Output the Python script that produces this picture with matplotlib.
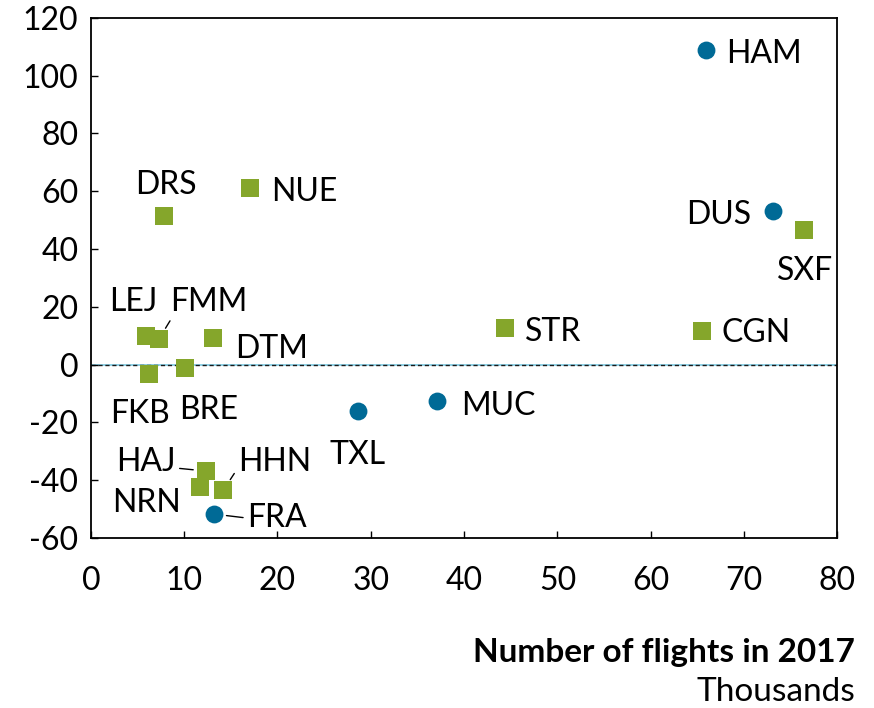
import matplotlib.pyplot as plt

plt.rcParams['font.family'] = ['Lato', 'DejaVu Sans']
plt.rcParams['axes.unicode_minus'] = False

# airports: thousands of flights in 2017 vs change (y)
airports = ['HAM', 'DUS', 'SXF', 'CGN', 'STR', 'MUC', 'TXL', 'NUE', 'DRS',
            'LEJ', 'FMM', 'DTM', 'FKB', 'BRE', 'HAJ', 'HHN', 'NRN', 'FRA']
flights = [65.9, 73.1, 76.4, 65.5, 44.4, 37.1, 28.6, 17.1, 7.8,
           5.9, 7.3, 13.1, 6.2, 10.1, 12.3, 14.2, 11.7, 13.2]
values = [108.9, 53.2, 46.6, 11.7, 12.7, -12.6, -16.0, 61.1, 51.5,
          10.0, 8.9, 9.2, -3.2, -1.1, -36.8, -43.4, -42.3, -51.7]
groups = ['b', 'b', 'g', 'g', 'g', 'b', 'b', 'g', 'g',
          'g', 'g', 'g', 'g', 'g', 'g', 'g', 'g', 'b']

blue = '#006A96'
green = '#85A62B'

# label offsets in pixels (dx, dy) and leader line anchor
offsets = {
    'HAM': (58, -4), 'DUS': (-54, -4), 'SXF': (1, -41), 'CGN': (54, -2),
    'STR': (48, -4), 'MUC': (61, -5), 'TXL': (0, -44), 'NUE': (54, -4),
    'DRS': (2, 31), 'LEJ': (-13, 34), 'FMM': (50, 37), 'DTM': (58, -11),
    'FKB': (-9, -40), 'BRE': (23, -42), 'HAJ': (-60, 9), 'HHN': (51, 28),
    'NRN': (-54, -16), 'FRA': (63, -4),
}
leaders = {'FMM': (0.05, 0.1), 'HAJ': (1.0, 0.3), 'HHN': (0.0, 0.3), 'FRA': (0.0, 0.5)}

fig = plt.figure(figsize=(8.74, 7.08), dpi=100)
ax = fig.add_axes([0.104, 0.240, 0.854, 0.735])

ax.axhline(0, color='#7cc8e0', lw=1.2, zorder=1)
ax.axhline(0, color='#1a1a1a', lw=1.0, ls=(0, (3, 2)), zorder=1)

for name, x, y, g in zip(airports, flights, values, groups):
    if g == 'b':
        ax.scatter(x, y, s=165, marker='o', color=blue, zorder=3, linewidths=0)
    else:
        ax.scatter(x, y, s=150, marker='s', color=green, zorder=3, linewidths=0)
    dx, dy = offsets[name]
    kw = {}
    if name in leaders:
        kw['arrowprops'] = dict(arrowstyle='-', color='black', lw=1,
                                shrinkA=1, shrinkB=9, relpos=leaders[name])
    ax.annotate(name, (x, y), xytext=(dx, dy), textcoords='offset pixels',
                ha='center', va='center', fontsize=23, **kw)

ax.set_xlim(0, 80)
ax.set_ylim(-60, 120)
ax.set_xticks(range(0, 81, 10))
ax.set_yticks(range(-60, 121, 20))
ax.tick_params(direction='in', length=5, width=1, labelsize=23)
ax.tick_params(axis='x', pad=20)
ax.tick_params(axis='y', pad=9)
for s in ax.spines.values():
    s.set_linewidth(1.3)

fig.text(0.978, 0.079, 'Number of flights in 2017', ha='right', va='center',
         fontsize=24, fontweight='bold')
fig.text(0.978, 0.022, 'Thousands', ha='right', va='center', fontsize=24)

fig.savefig('out.png', dpi=100)
